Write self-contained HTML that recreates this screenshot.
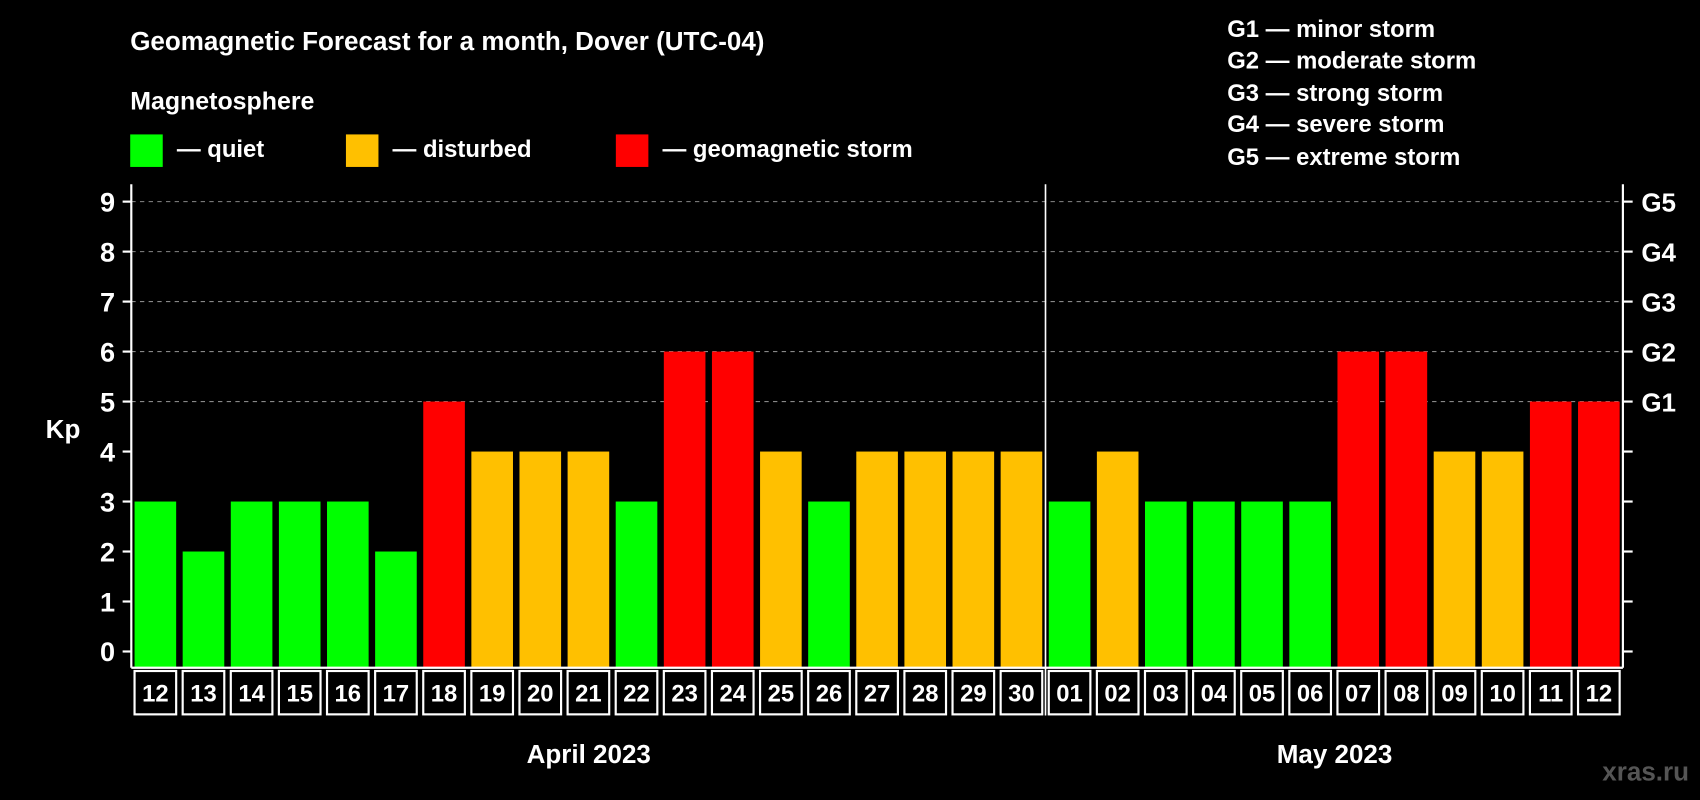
<!DOCTYPE html>
<html><head><meta charset="utf-8"><style>
html,body{margin:0;padding:0;background:#000;}
svg{display:block;}
text{font-family:"Liberation Sans",Arial,sans-serif;font-weight:bold;fill:#fff;}
</style></head><body>
<svg id="chart" width="1700" height="800" viewBox="0 0 1568 738" xmlns="http://www.w3.org/2000/svg">
<rect x="0" y="0" width="1568" height="738" fill="#000"/>
<text x="120" y="46" font-size="24">Geomagnetic Forecast for a month, Dover (UTC-04)</text>
<text x="120" y="101" font-size="23">Magnetosphere</text>
<g><rect x="120" y="124" width="30" height="30" fill="#00ff00"/><text x="163" y="145" font-size="22">— quiet</text></g>
<g><rect x="319" y="124" width="30" height="30" fill="#ffc000"/><text x="362" y="145" font-size="22">— disturbed</text></g>
<g><rect x="568" y="124" width="30" height="30" fill="#ff0000"/><text x="611" y="145" font-size="22">— geomagnetic storm</text></g>
<g font-size="22">
<text x="1132" y="34">G1 — minor storm</text>
<text x="1132" y="63">G2 — moderate storm</text>
<text x="1132" y="93">G3 — strong storm</text>
<text x="1132" y="122">G4 — severe storm</text>
<text x="1132" y="152">G5 — extreme storm</text>
</g>
<text x="58" y="404" font-size="24" text-anchor="middle">Kp</text>
<g id="plot"></g>
<text x="543" y="704" font-size="24" text-anchor="middle">April 2023</text>
<text x="1231" y="704" font-size="24" text-anchor="middle">May 2023</text>
<text x="1558" y="720" font-size="24" text-anchor="end" fill="#555" style="fill:#555">xras.ru</text>
</svg>
<script>
const days = ["12","13","14","15","16","17","18","19","20","21","22","23","24","25","26","27","28","29","30","01","02","03","04","05","06","07","08","09","10","11","12"];
const kp = [3,2,3,3,3,2,5,4,4,4,3,6,6,4,3,4,4,4,4,3,4,3,3,3,3,6,6,4,4,5,5];
const yTicks = [0,1,2,3,4,5,6,7,8,9];
const gLabels = ["","","","","","G1","G2","G3","G4","G5"];

const NS="http://www.w3.org/2000/svg";
const L=121,R=1497,T=170,B=616;
const slot=(R-L)/days.length;
const y=v=>601-v*(601-186)/9;
const x=i=>L+i*slot;
const plot=document.getElementById('plot');
function mk(tag,attrs,parent){const e=document.createElementNS(NS,tag);for(const k in attrs)e.setAttribute(k,attrs[k]);(parent||plot).appendChild(e);return e;}
function color(v){return v>=5?"#ff0000":(v>=4?"#ffc000":"#00ff00");}

yTicks.forEach((t,i)=>{
  if(t>=5){const g=mk('line',{x1:L,x2:R,y1:y(t),y2:y(t),stroke:"#888","stroke-dasharray":"4,4","stroke-width":1});
  
  }
  const tk=mk('line',{x1:L-8,x2:L,y1:y(t),y2:y(t),stroke:"#fff","stroke-width":2});
  
  
  const tr=mk('line',{x1:R,x2:R+9,y1:y(t),y2:y(t),stroke:"#fff","stroke-width":2});
  
  
  const lb=mk('text',{x:106,y:y(t)+9,"font-size":25,"text-anchor":"end"});lb.textContent=t;
  
  
  if(gLabels[i]){const gl=mk('text',{x:1514,y:y(t)+9,"font-size":24});gl.textContent=gLabels[i];
  
  }
});

kp.forEach((v,i)=>{
  const r=mk('rect',{x:x(i)+3,y:y(v),width:slot-6,height:B-y(v),fill:color(v)});
  
  
  const c=mk('rect',{x:x(i)+3,y:619,width:slot-6,height:40,fill:"none",stroke:"#fff","stroke-width":2});
  
  
  const t=mk('text',{x:x(i)+slot/2,y:647,"font-size":22,"text-anchor":"middle"});t.textContent=days[i];
  
  
});
const ax=mk('line',{x1:L,x2:L,y1:T,y2:B,stroke:"#fff","stroke-width":2});


const ax2=mk('line',{x1:R,x2:R,y1:T,y2:B,stroke:"#fff","stroke-width":2});


const bx=mk('line',{x1:L,x2:R,y1:B,y2:B,stroke:"#fff","stroke-width":2});


const sep=mk('line',{x1:x(19),x2:x(19),y1:T,y2:660,stroke:"#fff","stroke-width":1.5});


</script>
</body></html>
